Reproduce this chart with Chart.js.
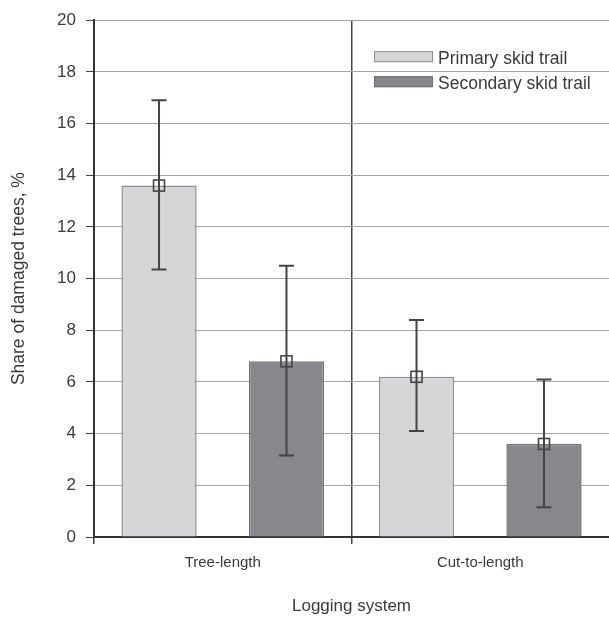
<!DOCTYPE html>
<html>
<head>
<meta charset="utf-8">
<script src="https://cdn.jsdelivr.net/npm/chart.js@4.4.1/dist/chart.umd.min.js"></script>
<style>
  html, body { margin: 0; padding: 0; background: #fff; }
  #wrap { width: 609px; height: 617px; }
</style>
</head>
<body>
<div id="wrap"><canvas id="chart"></canvas></div>
<script>
const systems = ['Tree-length', 'Cut-to-length']
const seriesNames = ['Primary skid trail', 'Secondary skid trail']
const primaryMean = [13.6, 6.2]
const primaryLow = [10.35, 4.1]
const primaryHigh = [16.9, 8.4]
const secondaryMean = [6.8, 3.6]
const secondaryLow = [3.15, 1.15]
const secondaryHigh = [10.5, 6.1]
const yTicks = [0, 2, 4, 6, 8, 10, 12, 14, 16, 18, 20]

const ink = '#3a3a3a'
const narrow = '"Liberation Sans Narrow", "Arial Narrow", "Liberation Sans", Arial, sans-serif'
const regular = '"Liberation Sans", Arial, sans-serif'

// error bars + mean squares, drawn through the scales
const errorBars = {
  id: 'errorBars',
  afterDatasetsDraw(chart) {
    const ctx = chart.ctx
    const y = chart.scales.y
    ctx.save()
    ctx.strokeStyle = '#444'
    ctx.lineWidth = 2
    chart.data.datasets.forEach((ds, di) => {
      const meta = chart.getDatasetMeta(di)
      meta.data.forEach((bar, i) => {
        const x = bar.x
        const top = y.getPixelForValue(ds.errHigh[i])
        const bot = y.getPixelForValue(ds.errLow[i])
        ctx.beginPath()
        ctx.moveTo(x, top); ctx.lineTo(x, bot)
        ctx.moveTo(x - 7.5, top); ctx.lineTo(x + 7.5, top)
        ctx.moveTo(x - 7.5, bot); ctx.lineTo(x + 7.5, bot)
        ctx.stroke()
        const m = y.getPixelForValue(ds.data[i])
        ctx.lineWidth = 1.6
        ctx.strokeRect(x - 5.5, m - 5.5, 11, 11)
        ctx.lineWidth = 2
      })
    })
    ctx.restore()
  }
}

// legend inside the plot, upper right
const boxLegend = {
  id: 'boxLegend',
  afterDraw(chart) {
    const ctx = chart.ctx
    const a = chart.chartArea
    const x0 = a.right - 235
    ctx.save()
    ctx.font = '17.5px ' + regular
    ctx.textBaseline = 'alphabetic'
    chart.data.datasets.forEach((ds, i) => {
      const yb = a.top + 31 + i * 25
      ctx.fillStyle = ds.backgroundColor
      ctx.fillRect(x0, yb, 59, 11)
      ctx.strokeStyle = ds.borderColor
      ctx.lineWidth = 1
      ctx.strokeRect(x0 + 0.5, yb + 0.5, 58, 10)
      ctx.fillStyle = ink
      ctx.fillText(ds.label, x0 + 64, yb + 12.3)
    })
    ctx.restore()
  }
}

const data = {
  labels: systems,
  datasets: [
    {
      label: seriesNames[0],
      data: primaryMean,
      errLow: primaryLow,
      errHigh: primaryHigh,
      backgroundColor: '#d5d6d8',
      borderColor: '#8f8f8f',
      borderWidth: 1.5
    },
    {
      label: seriesNames[1],
      data: secondaryMean,
      errLow: secondaryLow,
      errHigh: secondaryHigh,
      backgroundColor: '#87888b',
      borderColor: '#707073',
      borderWidth: 1.5
    }
  ]
}

new Chart(document.getElementById('chart'), {
  type: 'bar',
  data: data,
  plugins: [errorBars, boxLegend],
  options: {
    responsive: true,
    maintainAspectRatio: false,
    animation: false,
    layout: { padding: { top: 20, right: 0, bottom: 0, left: 0 } },
    datasets: { bar: { categoryPercentage: 0.99, barPercentage: 0.59 } },
    plugins: { legend: { display: false }, tooltip: { enabled: false } },
    scales: {
      x: {
        afterFit(scale) { scale.height = 80 },
        border: { color: '#333', width: 2 },
        grid: {
          offset: true,
          // no line on the far right edge
          color: c => c.type === 'tick' ? '#444' : 'rgba(0,0,0,0)',
          lineWidth: 1.5,
          tickLength: 7
        },
        ticks: { color: ink, padding: 10, font: { family: narrow, size: 15 } },
        title: {
          display: true,
          text: 'Logging system',
          color: ink,
          padding: { top: 0, bottom: 0 },
          font: { family: regular, size: 17 }
        }
      },
      y: {
        min: 0,
        max: 20,
        afterFit(scale) { scale.width = 94 },
        afterBuildTicks(scale) { scale.ticks = yTicks.map(v => ({ value: v })) },
        border: { color: '#333', width: 2 },
        grid: { color: '#a3a5a8', lineWidth: 1, tickColor: '#444', tickLength: 8 },
        ticks: { color: ink, padding: 10, font: { family: narrow, size: 17 } },
        title: {
          display: true,
          text: 'Share of damaged trees, %',
          color: ink,
          padding: { top: 9, bottom: 0 },
          font: { family: regular, size: 17.5 }
        }
      }
    }
  }
})
</script>
</body>
</html>
